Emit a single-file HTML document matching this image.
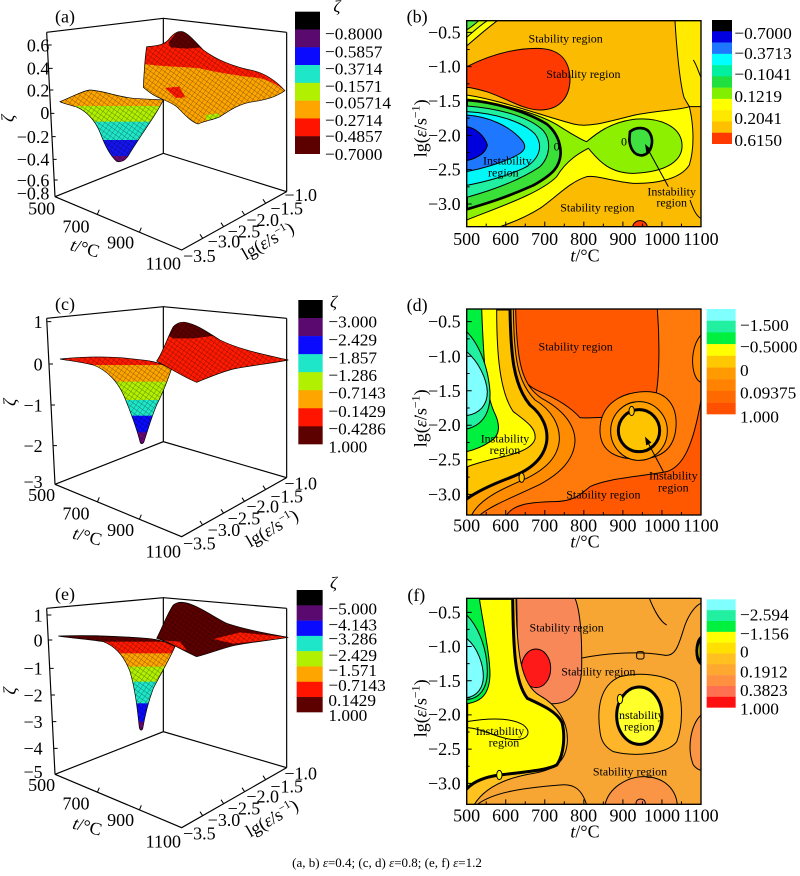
<!DOCTYPE html>
<html><head><meta charset="utf-8"><style>
html,body{margin:0;padding:0;background:#fff;width:800px;height:876px;overflow:hidden}
svg{display:block}
text{font-family:"Liberation Serif","Times New Roman",serif;fill:#000}
</style></head><body>
<svg width="800" height="876" viewBox="0 0 800 876" xmlns="http://www.w3.org/2000/svg" font-family="Liberation Serif, Times New Roman, serif">
<defs>
<pattern id="mesh" width="12" height="12" patternUnits="userSpaceOnUse" patternTransform="rotate(35)">
<path d="M0,0 L12,0 M0,0 L0,12" stroke="#000" stroke-width="2" fill="none" opacity="0.55"/>
</pattern>
<clipPath id="cLA"><path d="M180,305 C220,288 250,272 270,270 C310,272 350,290 400,295 C440,298 470,298 490,300 C475,330 455,360 440,382 C420,412 400,442 385,467 C375,482 362,488 350,484 C332,468 316,440 302,402 C286,362 262,336 232,322 C208,314 188,310 180,305 Z"/></clipPath>
<clipPath id="cRA"><path d="M430,262 C432,220 435,170 440,140 C470,138 490,135 505,120 C520,100 535,92 548,95 C565,100 585,125 610,150 C650,180 700,200 760,212 C800,222 830,245 855,272 C830,290 800,300 760,305 C720,310 690,330 660,350 C640,360 615,362 595,372 C575,368 550,340 530,320 C510,305 490,300 470,290 C450,280 440,270 430,262 Z"/></clipPath>
<clipPath id="cLC"><path d="M180,222 C250,215 320,212 400,222 C440,226 470,228 515,250 C505,280 490,320 470,360 C455,395 445,430 432,470 C428,478 422,478 420,470 C410,430 395,390 375,340 C355,290 320,255 280,240 C240,230 200,226 180,222 Z"/></clipPath>
<clipPath id="cRC"><path d="M470,228 C490,200 505,150 520,125 C530,115 540,110 555,112 C590,118 620,140 660,165 C720,195 800,210 865,225 C820,235 760,240 700,252 C660,262 620,280 590,292 C560,280 530,262 500,245 Z"/></clipPath>
<clipPath id="cLE"><path d="M175,183 C260,180 350,183 440,190 C480,193 510,205 525,215 C505,260 480,300 460,340 C445,380 435,420 428,462 C424,468 420,466 418,458 C412,400 405,340 390,290 C375,250 350,215 310,200 C260,192 200,188 175,183 Z"/></clipPath>
<clipPath id="cRE"><path d="M470,190 C490,150 505,110 520,90 C530,82 545,80 560,84 C600,95 640,125 680,145 C740,165 800,175 865,187 C820,195 760,200 700,212 C660,222 620,238 590,245 C560,232 530,215 500,200 Z"/></clipPath>
<clipPath id="cpb"><rect x="200" y="62" width="703" height="618"/></clipPath>
<clipPath id="cpd"><rect x="200" y="72" width="703" height="618"/></clipPath>
<clipPath id="cpf"><rect x="200" y="70" width="703" height="618"/></clipPath>
</defs>
<rect width="800" height="876" fill="#fff"/>

<!-- ================= (a) ================= -->
<g transform="scale(0.333333)" font-size="54">
<path d="M140,97 L490,55 L860,97 M490,55 L490,460 M860,97 L860,575 M140,97 L165,590 M165,590 L490,460 L860,575 M165,590 L545,750 L860,575" fill="none" stroke="#000" stroke-width="3.5"/>
<path d="M292,643 l6,-14 M418,697 l6,-14 M608,715 l-8,-12 M671,680 l-8,-12 M734,645 l-8,-12 M797,610 l-8,-12 M143,135 h12 M146,205 h12 M148,270 h12 M151,340 h12 M155,410 h12 M158,478 h12 M161,540 h12" stroke="#000" stroke-width="3"/>
<g clip-path="url(#cLA)">
<rect x="150" y="240" width="400" height="80" fill="#ffa500"/>
<rect x="150" y="318" width="400" height="48" fill="#b0f000"/>
<rect x="150" y="365" width="400" height="56" fill="#20e6c8"/>
<rect x="150" y="420" width="400" height="49" fill="#1414f0"/>
<rect x="150" y="468" width="400" height="40" fill="#6a0878"/>
</g>
<path d="M180,305 C220,288 250,272 270,270 C310,272 350,290 400,295 C440,298 470,298 490,300 C475,330 455,360 440,382 C420,412 400,442 385,467 C375,482 362,488 350,484 C332,468 316,440 302,402 C286,362 262,336 232,322 C208,314 188,310 180,305 Z" fill="url(#mesh)" stroke="#000" stroke-width="2"/>
<g clip-path="url(#cRA)">
<rect x="400" y="80" width="500" height="320" fill="#ffa500"/>
<path d="M420,100 L900,100 L900,270 L855,272 C820,245 790,235 760,232 C700,225 640,215 600,205 C540,200 480,200 420,190 Z" fill="#ff1a00"/>
<path d="M505,128 L530,97 L548,94 L575,110 L605,142 L560,146 L512,142 Z" fill="#5c0000"/>
<path d="M495,264 L538,260 L556,292 L528,294 Z" fill="#ff1a00"/>
<path d="M615,345 L660,340 L655,356 L620,360 Z" fill="#b0f000"/>
</g>
<path d="M430,262 C432,220 435,170 440,140 C470,138 490,135 505,120 C520,100 535,92 548,95 C565,100 585,125 610,150 C650,180 700,200 760,212 C800,222 830,245 855,272 C830,290 800,300 760,305 C720,310 690,330 660,350 C640,360 615,362 595,372 C575,368 550,340 530,320 C510,305 490,300 470,290 C450,280 440,270 430,262 Z" fill="url(#mesh)" stroke="#000" stroke-width="2"/>
<text x="165" y="68">(a)</text>
<g text-anchor="end">
<text x="148" y="154">0.6</text><text x="148" y="224">0.4</text><text x="148" y="289">0.2</text><text x="148" y="357">0</text>
<text x="148" y="429">−0.2</text><text x="148" y="497">−0.4</text><text x="148" y="559">−0.6</text><text x="148" y="599">−0.8</text>
</g>
<text transform="translate(42,355) rotate(-90)" text-anchor="middle" font-style="italic">ζ</text>
<g text-anchor="middle">
<text x="125" y="643">500</text><text x="228" y="698">700</text><text x="362" y="745">900</text><text x="490" y="808">1100</text>
<text x="902" y="603">−1.0</text><text x="860" y="643">−1.5</text><text x="788" y="678">−2.0</text><text x="732" y="713">−2.5</text><text x="672" y="743">−3.0</text><text x="598" y="786">−3.5</text>
</g>
<text x="255" y="762" text-anchor="middle" transform="rotate(15,255,745)"><tspan font-style="italic">t</tspan>/°C</text>
<text transform="translate(812,738) rotate(-30)" text-anchor="middle">lg(<tspan font-style="italic">ε̇</tspan>/s<tspan font-size="34" dy="-20">−1</tspan><tspan dy="20">)</tspan></text>
<rect x="885" y="35" width="75" height="54" fill="#000"/>
<rect x="885" y="88.4" width="75" height="54" fill="#5a0a6e"/>
<rect x="885" y="141.8" width="75" height="54" fill="#0a0aff"/>
<rect x="885" y="195.1" width="75" height="54" fill="#1ee6c8"/>
<rect x="885" y="248.5" width="75" height="54" fill="#b0f000"/>
<rect x="885" y="301.9" width="75" height="54" fill="#ffa500"/>
<rect x="885" y="355.3" width="75" height="54" fill="#ff1400"/>
<rect x="885" y="408.6" width="75" height="53.4" fill="#5c0000"/>
<g font-size="52">
<text x="1000" y="36" font-style="italic">ζ</text>
<text x="975" y="118">−0.8000</text><text x="975" y="173">−0.5857</text><text x="975" y="223">−0.3714</text><text x="975" y="276">−0.1571</text>
<text x="975" y="326">−0.05714</text><text x="975" y="378">−0.2714</text><text x="975" y="426">−0.4857</text><text x="975" y="480">−0.7000</text>
</g>
</g>

<!-- ================= (c) ================= -->
<g transform="translate(0,285) scale(0.333333)" font-size="54">
<path d="M140,100 L490,65 L860,100 M490,65 L490,470 M860,100 L860,578 M140,100 L165,598 M165,598 L490,470 L860,578 M165,598 L545,755 L860,578" fill="none" stroke="#000" stroke-width="3.5"/>
<path d="M292,651 l6,-14 M418,703 l6,-14 M608,720 l-8,-12 M671,685 l-8,-12 M734,650 l-8,-12 M797,614 l-8,-12 M142,110 h12 M147,237 h12 M153,360 h12 M159,482 h12" stroke="#000" stroke-width="3"/>
<g clip-path="url(#cLC)">
<rect x="150" y="200" width="400" height="42" fill="#ff1a00"/>
<rect x="150" y="240" width="400" height="52" fill="#ffa500"/>
<rect x="150" y="290" width="400" height="56" fill="#b0f000"/>
<rect x="150" y="345" width="400" height="48" fill="#1ee6c8"/>
<rect x="150" y="392" width="400" height="51" fill="#0a0aff"/>
<rect x="150" y="442" width="400" height="50" fill="#6a0878"/>
</g>
<path d="M180,222 C250,215 320,212 400,222 C440,226 470,228 515,250 C505,280 490,320 470,360 C455,395 445,430 432,470 C428,478 422,478 420,470 C410,430 395,390 375,340 C355,290 320,255 280,240 C240,230 200,226 180,222 Z" fill="url(#mesh)" stroke="#000" stroke-width="2"/>
<g clip-path="url(#cRC)">
<rect x="450" y="90" width="450" height="220" fill="#ff1a00"/>
<path d="M505,152 L525,118 L555,112 L600,125 L645,152 L580,160 L520,160 Z" fill="#5c0000"/>
</g>
<path d="M470,228 C490,200 505,150 520,125 C530,115 540,110 555,112 C590,118 620,140 660,165 C720,195 800,210 865,225 C820,235 760,240 700,252 C660,262 620,280 590,292 C560,280 530,262 500,245 Z" fill="url(#mesh)" stroke="#000" stroke-width="2"/>
<text x="165" y="75">(c)</text>
<g text-anchor="end">
<text x="128" y="129">1</text><text x="128" y="256">0</text><text x="128" y="379">−1</text><text x="128" y="501">−2</text><text x="128" y="609">−3</text>
</g>
<text transform="translate(48,352) rotate(-90)" text-anchor="middle" font-style="italic">ζ</text>
<g text-anchor="middle">
<text x="125" y="648">500</text><text x="228" y="703">700</text><text x="362" y="753">900</text><text x="490" y="818">1100</text>
<text x="902" y="613">−1.0</text><text x="860" y="653">−1.5</text><text x="788" y="683">−2.0</text><text x="732" y="718">−2.5</text><text x="672" y="753">−3.0</text><text x="598" y="793">−3.5</text>
</g>
<text x="262" y="772" text-anchor="middle" transform="rotate(15,262,755)"><tspan font-style="italic">t</tspan>/°C</text>
<text transform="translate(825,745) rotate(-30)" text-anchor="middle">lg(<tspan font-style="italic">ε̇</tspan>/s<tspan font-size="34" dy="-20">−1</tspan><tspan dy="20">)</tspan></text>
<rect x="895" y="45" width="73" height="55" fill="#000"/>
<rect x="895" y="99.1" width="73" height="55" fill="#5a0a6e"/>
<rect x="895" y="153.3" width="73" height="55" fill="#0a0aff"/>
<rect x="895" y="207.4" width="73" height="55" fill="#1ee6c8"/>
<rect x="895" y="261.5" width="73" height="55" fill="#b0f000"/>
<rect x="895" y="315.6" width="73" height="55" fill="#ffa500"/>
<rect x="895" y="369.8" width="73" height="55" fill="#ff1400"/>
<rect x="895" y="423.9" width="73" height="54.1" fill="#5c0000"/>
<g font-size="52">
<text x="990" y="68" font-style="italic">ζ</text>
<text x="985" y="128">−3.000</text><text x="985" y="181">−2.429</text><text x="985" y="236">−1.857</text><text x="985" y="288">−1.286</text>
<text x="985" y="340">−0.7143</text><text x="985" y="396">−0.1429</text><text x="985" y="448">−0.4286</text><text x="985" y="503">1.000</text>
</g>
</g>

<!-- ================= (e) ================= -->
<g transform="translate(0,575) scale(0.333333)" font-size="54">
<path d="M140,100 L490,68 L860,100 M490,68 L490,470 M860,100 L860,578 M140,100 L165,598 M165,598 L490,470 L860,578 M165,598 L545,758 L860,578" fill="none" stroke="#000" stroke-width="3.5"/>
<path d="M292,652 l6,-14 M418,705 l6,-14 M608,722 l-8,-12 M671,686 l-8,-12 M734,650 l-8,-12 M797,614 l-8,-12 M142,120 h12 M145,195 h12 M149,280 h12 M153,360 h12 M157,440 h12 M161,520 h12" stroke="#000" stroke-width="3"/>
<g clip-path="url(#cLE)">
<rect x="150" y="170" width="400" height="32" fill="#5c0000"/>
<rect x="150" y="200" width="400" height="37" fill="#ff1a00"/>
<rect x="150" y="235" width="400" height="42" fill="#ffa500"/>
<rect x="150" y="275" width="400" height="47" fill="#b0f000"/>
<rect x="150" y="320" width="400" height="67" fill="#1ee6c8"/>
<rect x="150" y="385" width="400" height="57" fill="#0a0aff"/>
<rect x="150" y="440" width="400" height="40" fill="#6a0878"/>
</g>
<path d="M175,183 C260,180 350,183 440,190 C480,193 510,205 525,215 C505,260 480,300 460,340 C445,380 435,420 428,462 C424,468 420,466 418,458 C412,400 405,340 390,290 C375,250 350,215 310,200 C260,192 200,188 175,183 Z" fill="url(#mesh)" stroke="#000" stroke-width="2"/>
<g clip-path="url(#cRE)">
<rect x="450" y="70" width="450" height="200" fill="#5c0000"/>
<path d="M640,192 L720,172 L865,187 L790,197 L700,206 Z" fill="#ff1a00"/>
<path d="M470,195 L540,200 L560,225 L500,215 Z" fill="#ff1a00"/>
</g>
<path d="M470,190 C490,150 505,110 520,90 C530,82 545,80 560,84 C600,95 640,125 680,145 C740,165 800,175 865,187 C820,195 760,200 700,212 C660,222 620,238 590,245 C560,232 530,215 500,200 Z" fill="url(#mesh)" stroke="#000" stroke-width="2"/>
<text x="165" y="75">(e)</text>
<g text-anchor="end">
<text x="128" y="139">1</text><text x="128" y="214">0</text><text x="128" y="299">−1</text><text x="128" y="379">−2</text>
<text x="128" y="459">−3</text><text x="128" y="539">−4</text><text x="128" y="609">−5</text>
</g>
<text transform="translate(48,348) rotate(-90)" text-anchor="middle" font-style="italic">ζ</text>
<g text-anchor="middle">
<text x="125" y="648">500</text><text x="228" y="703">700</text><text x="362" y="753">900</text><text x="490" y="818">1100</text>
<text x="902" y="613">−1.0</text><text x="860" y="653">−1.5</text><text x="788" y="683">−2.0</text><text x="732" y="718">−2.5</text><text x="672" y="753">−3.0</text><text x="598" y="793">−3.5</text>
</g>
<text x="262" y="772" text-anchor="middle" transform="rotate(15,262,755)"><tspan font-style="italic">t</tspan>/°C</text>
<text transform="translate(825,745) rotate(-30)" text-anchor="middle">lg(<tspan font-style="italic">ε̇</tspan>/s<tspan font-size="34" dy="-20">−1</tspan><tspan dy="20">)</tspan></text>
<rect x="890" y="45" width="78" height="46.5" fill="#000"/>
<rect x="890" y="90.9" width="78" height="46.5" fill="#5a0a6e"/>
<rect x="890" y="136.8" width="78" height="46.5" fill="#0a0aff"/>
<rect x="890" y="182.6" width="78" height="46.5" fill="#1ee6c8"/>
<rect x="890" y="228.5" width="78" height="46.5" fill="#b0f000"/>
<rect x="890" y="274.4" width="78" height="46.5" fill="#ffa500"/>
<rect x="890" y="320.3" width="78" height="46.5" fill="#ff1400"/>
<rect x="890" y="366.1" width="78" height="45.9" fill="#5c0000"/>
<g font-size="52">
<text x="990" y="40" font-style="italic">ζ</text>
<text x="985" y="118">−5.000</text><text x="985" y="166">−4.143</text><text x="985" y="208">−3.286</text><text x="985" y="258">−2.429</text>
<text x="985" y="303">−1.571</text><text x="985" y="348">−0.7143</text><text x="985" y="393">0.1429</text><text x="985" y="438">1.000</text>
</g>
</g>

<!-- ================= (b) ================= -->
<g transform="translate(400,0) scale(0.333333)" font-size="54">
<g clip-path="url(#cpb)" stroke="#000" stroke-width="3">
<rect x="200" y="62" width="703" height="618" fill="#fbbb00"/>
<path d="M825,62 C830,150 840,250 852,292 C862,312 868,318 868,320 L903,320 L903,62 Z" fill="#ffea00"/>
<path d="M880,180 C890,195 895,215 903,232" fill="none"/>
<path d="M200,62 L292,62 C265,82 232,110 200,138 Z" fill="#ffff00"/>
<path d="M200,62 L262,62 C240,76 220,95 200,112 Z" fill="#d8f800"/>
<path d="M200,62 L236,62 C226,72 212,82 200,90 Z" fill="#50e840"/>
<path d="M200,200 C260,170 330,145 410,145 C470,145 505,170 510,230 C512,290 480,330 420,330 C370,330 320,295 260,275 C235,268 215,262 200,262 Z" fill="#ff3a00"/>
<path d="M200,285 C300,300 420,345 520,372 C560,382 600,372 700,346 C780,330 840,330 868,320 C880,370 885,440 868,495 C840,540 760,552 700,550 C640,545 590,525 560,530 C510,545 470,590 420,625 C380,650 330,670 300,680 L200,680 Z" fill="#ffff00"/>
<path d="M200,298 C300,310 420,340 480,380 C520,405 545,420 560,425 C590,400 630,368 700,358 C780,350 842,380 846,432 C850,482 800,516 700,520 C620,520 588,470 565,445 C540,458 500,480 470,530 C420,580 300,620 200,660 Z" fill="#8cf000"/>
<path d="M200,300 C280,305 380,335 440,372 C470,396 482,430 482,460 C480,500 460,522 400,556 C320,592 260,610 200,628 Z" fill="#38e038" stroke-width="8"/>
<path d="M200,318 C300,325 390,352 430,392 C455,422 450,470 420,500 C360,540 280,570 200,592 Z" fill="#20f0a0"/>
<path d="M200,335 C290,340 370,366 405,402 C428,432 424,470 380,500 C330,525 260,545 200,556 Z" fill="#00f8f8"/>
<path d="M200,345 C270,350 330,380 365,420 C382,440 376,455 342,470 C300,490 250,505 200,515 Z" fill="#1e78ff"/>
<path d="M200,380 C230,385 255,410 262,435 C258,460 230,475 200,482 Z" fill="#0000dd"/>
<path d="M690,395 C708,380 740,380 750,400 C762,422 756,460 728,466 C700,468 690,442 688,420 Z" fill="#40e040" stroke-width="8"/>
<path d="M870,600 C880,630 890,650 903,655" fill="none"/>
<ellipse cx="720" cy="682" rx="22" ry="20" fill="#ff3a00"/>
</g>
<rect x="200" y="62" width="703" height="618" fill="none" stroke="#000" stroke-width="4"/>
<path d="M200,680 v-15 M317.2,680 v-15 M434.3,680 v-15 M551.5,680 v-15 M668.7,680 v-15 M785.8,680 v-15 M258.6,680 v-9 M375.8,680 v-9 M492.9,680 v-9 M610.1,680 v-9 M727.3,680 v-9 M844.4,680 v-9 M200,97 h15 M200,200 h15 M200,303 h15 M200,406 h15 M200,509 h15 M200,612 h15 M200,148.5 h9 M200,251.5 h9 M200,354.5 h9 M200,457.5 h9 M200,560.5 h9" stroke="#000" stroke-width="3"/>
<g font-size="36" text-anchor="middle">
<text x="497" y="127">Stability region</text>
<text x="550" y="234">Stability region</text>
<text x="322" y="494">Instability</text><text x="310" y="530">region</text>
<text x="815" y="587">Instability</text><text x="815" y="620">region</text>
<text x="592" y="634">Stability region</text>
<text x="470" y="452">0</text><text x="672" y="437">0</text>
</g>
<path d="M805,560 L745,450" stroke="#000" stroke-width="3"/>
<path d="M735,432 L755,450 L739,458 Z" fill="#000"/>
<text x="20" y="68">(b)</text>
<g text-anchor="end">
<text x="182" y="115">−0.5</text><text x="182" y="218">−1.0</text><text x="182" y="321">−1.5</text><text x="182" y="424">−2.0</text><text x="182" y="527">−2.5</text><text x="182" y="630">−3.0</text>
</g>
<g text-anchor="middle">
<text x="200" y="735">500</text><text x="317" y="735">600</text><text x="434" y="735">700</text><text x="551" y="735">800</text><text x="669" y="735">900</text><text x="786" y="735">1000</text><text x="903" y="735">1100</text>
<text x="555" y="785"><tspan font-style="italic">t</tspan>/°C</text>
</g>
<text transform="translate(80,385) rotate(-90)" text-anchor="middle">lg(<tspan font-style="italic">ε̇</tspan>/s<tspan font-size="36" dy="-22">−1</tspan><tspan dy="22">)</tspan></text>
<rect x="936" y="60" width="60" height="34.5" fill="#000000"/>
<rect x="936" y="93.8" width="60" height="34.5" fill="#0000e0"/>
<rect x="936" y="127.6" width="60" height="34.5" fill="#1e78ff"/>
<rect x="936" y="161.5" width="60" height="34.5" fill="#00ffff"/>
<rect x="936" y="195.3" width="60" height="34.5" fill="#00f0a0"/>
<rect x="936" y="229.1" width="60" height="34.5" fill="#20e040"/>
<rect x="936" y="262.9" width="60" height="34.5" fill="#80f000"/>
<rect x="936" y="296.7" width="60" height="34.5" fill="#ffff00"/>
<rect x="936" y="330.5" width="60" height="34.5" fill="#ffe800"/>
<rect x="936" y="364.4" width="60" height="34.5" fill="#ffc000"/>
<rect x="936" y="398.2" width="60" height="33.8" fill="#ff3a00"/>
<g font-size="52">
<text x="1003" y="117">−0.7000</text><text x="1003" y="177">−0.3713</text><text x="1003" y="240">−0.1041</text>
<text x="1003" y="306">0.1219</text><text x="1003" y="372">0.2041</text><text x="1003" y="438">0.6150</text>
</g>
</g>

<!-- ================= (d) ================= -->
<g transform="translate(400,285) scale(0.333333)" font-size="54">
<g clip-path="url(#cpd)" stroke="#000" stroke-width="3">
<rect x="200" y="72" width="703" height="618" fill="#ff7a0a"/>
<path d="M345,72 L772,72 C778,150 780,260 768,330 C755,375 720,390 650,395 C600,398 560,400 540,398 C515,370 480,345 420,320 C370,300 350,260 345,200 Z" fill="#ff5800"/>
<path d="M320,690 C340,660 380,652 460,650 C520,650 540,630 570,605 C620,580 720,575 800,560 C850,545 880,480 903,345 L903,690 Z" fill="#ff5800"/>
<path d="M903,150 C880,175 872,225 882,262 C888,282 897,290 903,292 Z" fill="#ff8a00"/>
<path d="M600,440 C598,360 660,322 735,320 C800,318 832,362 828,425 C824,485 790,520 720,522 C650,524 602,500 600,440 Z" fill="#ff8a00"/>
<ellipse cx="717" cy="438" rx="85" ry="88" fill="#ffa200"/>
<ellipse cx="717" cy="437" rx="62" ry="63" fill="#ffc400" stroke-width="9"/>
<path d="M200,72 L347,72 C350,230 365,300 425,340 C490,375 525,420 525,468 C522,525 480,565 420,598 C350,632 275,660 240,690 L200,690 Z" fill="#ff8c00"/>
<path d="M200,72 L340,72 C342,220 352,290 405,345 C455,375 480,420 478,465 C474,515 440,550 380,580 C310,610 240,640 215,690 L200,690 Z" fill="#ffa200"/>
<path d="M200,72 L330,72 C332,210 340,300 390,360 C428,390 445,430 440,470 C432,520 392,555 330,578 C272,600 230,620 200,642 Z" fill="#ffc400" stroke-width="9"/>
<path d="M200,72 L290,72 C290,200 298,320 340,380 C380,410 410,430 405,462 C396,492 350,507 280,522 C240,532 215,540 200,546 Z" fill="#ffff00"/>
<path d="M200,72 L245,72 C250,200 255,320 282,380 C302,420 300,452 270,470 C246,486 220,495 200,500 Z" fill="#00f040"/>
<path d="M200,140 C240,180 265,250 270,320 C272,380 250,420 200,432 Z" fill="#20f0a0"/>
<path d="M200,200 C235,230 260,280 262,320 C262,360 240,385 200,392 Z" fill="#80ffff"/>
<ellipse cx="365" cy="578" rx="8" ry="14" fill="#ffc400"/>
<ellipse cx="695" cy="378" rx="8" ry="14" fill="#ffc400"/>
</g>
<rect x="200" y="72" width="703" height="618" fill="none" stroke="#000" stroke-width="4"/>
<path d="M200,690 v-15 M317.2,690 v-15 M434.3,690 v-15 M551.5,690 v-15 M668.7,690 v-15 M785.8,690 v-15 M258.6,690 v-9 M375.8,690 v-9 M492.9,690 v-9 M610.1,690 v-9 M727.3,690 v-9 M844.4,690 v-9 M200,110 h15 M200,213.6 h15 M200,317.2 h15 M200,420.8 h15 M200,524.4 h15 M200,628 h15 M200,161.8 h9 M200,265.4 h9 M200,369 h9 M200,472.6 h9 M200,576.2 h9" stroke="#000" stroke-width="3"/>
<g font-size="36" text-anchor="middle">
<text x="527" y="197">Stability region</text>
<text x="315" y="472">Instability</text><text x="315" y="507">region</text>
<text x="820" y="584">Instability</text><text x="820" y="619">region</text>
<text x="610" y="640">Stability region</text>
</g>
<path d="M790,560 L745,475" stroke="#000" stroke-width="3"/>
<path d="M735,455 L754.4,472.9 L738.6,481.1 Z" fill="#000"/>
<text x="20" y="78">(d)</text>
<g text-anchor="end">
<text x="182" y="128">−0.5</text><text x="182" y="233">−1.0</text><text x="182" y="336">−1.5</text><text x="182" y="438">−2.0</text><text x="182" y="541">−2.5</text><text x="182" y="646">−3.0</text>
</g>
<g text-anchor="middle">
<text x="200" y="740">500</text><text x="317" y="740">600</text><text x="434" y="740">700</text><text x="551" y="740">800</text><text x="669" y="740">900</text><text x="786" y="740">1000</text><text x="903" y="740">1100</text>
<text x="555" y="788"><tspan font-style="italic">t</tspan>/°C</text>
</g>
<text transform="translate(80,400) rotate(-90)" text-anchor="middle">lg(<tspan font-style="italic">ε̇</tspan>/s<tspan font-size="36" dy="-22">−1</tspan><tspan dy="22">)</tspan></text>
<rect x="920" y="72" width="87" height="35.6" fill="#80ffff"/>
<rect x="920" y="107.1" width="87" height="35.6" fill="#20f0a0"/>
<rect x="920" y="142.2" width="87" height="35.6" fill="#00f040"/>
<rect x="920" y="177.3" width="87" height="35.6" fill="#ffff00"/>
<rect x="920" y="212.4" width="87" height="35.6" fill="#ffc800"/>
<rect x="920" y="247.6" width="87" height="35.6" fill="#ff9a00"/>
<rect x="920" y="282.7" width="87" height="35.6" fill="#ff8200"/>
<rect x="920" y="317.8" width="87" height="35.6" fill="#ff6a00"/>
<rect x="920" y="352.9" width="87" height="35.1" fill="#ff5000"/>
<g font-size="52">
<text x="1020" y="138">−1.500</text><text x="1020" y="203">−0.5000</text><text x="1020" y="273">0</text>
<text x="1020" y="340">0.09375</text><text x="1020" y="413">1.000</text>
</g>
</g>

<!-- ================= (f) ================= -->
<g transform="translate(400,575) scale(0.333333)" font-size="54">
<g clip-path="url(#cpf)" stroke="#000" stroke-width="3">
<rect x="200" y="70" width="703" height="618" fill="#f8a633"/>
<path d="M540,250 C600,238 700,226 790,240 C830,250 838,200 855,150 C870,110 890,90 903,85" fill="none"/>
<path d="M748,70 C760,100 780,140 800,150" fill="none"/>
<path d="M230,690 C280,650 380,638 480,630 C520,626 545,640 560,690" fill="none"/>
<path d="M350,70 L525,70 C542,110 546,200 545,280 C544,345 515,382 465,386 C418,389 378,372 362,332 C352,280 352,160 350,70 Z" fill="#f98858"/>
<ellipse cx="408" cy="280" rx="44" ry="58" fill="#ff1a1a"/>
<path d="M200,70 L348,70 C350,230 362,330 420,362 C470,390 505,440 502,500 C498,562 462,585 400,595 C320,608 255,635 222,690 L200,690 Z" fill="#ffc21e"/>
<path d="M200,70 L338,70 C340,220 344,322 382,370 C430,392 470,410 486,442 C496,482 492,540 470,570 C440,586 380,590 300,600 C250,606 220,620 200,642 Z" fill="#ffff00" stroke-width="9"/>
<path d="M200,440 C260,430 330,425 370,450 C395,470 385,492 350,494 C300,495 250,460 200,458" fill="none"/>
<path d="M200,70 L238,70 C250,150 270,240 270,300 C268,350 250,380 200,386 Z" fill="#00f040"/>
<path d="M200,120 C240,160 262,230 262,290 C262,340 240,370 200,374 Z" fill="#20f0a0"/>
<path d="M200,190 C235,220 250,270 250,305 C250,340 230,364 200,368 Z" fill="#80ffff"/>
<path d="M600,470 C590,400 600,330 660,305 C720,290 790,300 825,322 C850,362 850,450 830,500 C800,540 700,545 640,530 C612,515 603,495 600,470 Z" fill="#ffb52a"/>
<ellipse cx="718" cy="422" rx="68" ry="86" fill="#ffff2a" stroke-width="9"/>
<path d="M903,188 C888,200 885,250 903,266 Z" fill="#ffff00" stroke-width="9"/>
<path d="M903,420 C872,450 860,520 880,570 C888,580 896,585 903,586 Z" fill="#f99545"/>
<path d="M615,690 C625,640 680,605 730,605 C790,605 828,640 832,690 Z" fill="#f99545"/>
<ellipse cx="722" cy="684" rx="14" ry="12" fill="#f98858"/>
<rect x="710" y="230" width="22" height="22" rx="6" fill="none"/>
<ellipse cx="298" cy="600" rx="8" ry="14" fill="#ffff00"/>
<ellipse cx="660" cy="372" rx="8" ry="14" fill="#ffff00"/>
</g>
<rect x="200" y="70" width="703" height="618" fill="none" stroke="#000" stroke-width="4"/>
<path d="M200,688 v-15 M317.2,688 v-15 M434.3,688 v-15 M551.5,688 v-15 M668.7,688 v-15 M785.8,688 v-15 M258.6,688 v-9 M375.8,688 v-9 M492.9,688 v-9 M610.1,688 v-9 M727.3,688 v-9 M844.4,688 v-9 M200,112 h15 M200,214.6 h15 M200,317.2 h15 M200,419.8 h15 M200,522.4 h15 M200,625 h15 M200,163.3 h9 M200,265.9 h9 M200,368.5 h9 M200,471.1 h9 M200,573.7 h9" stroke="#000" stroke-width="3"/>
<g font-size="36" text-anchor="middle">
<text x="500" y="170">Stability region</text>
<text x="595" y="302">Stability region</text>
<text x="718" y="432">Instability</text><text x="718" y="467">region</text>
<text x="300" y="480">Instability</text><text x="312" y="514">region</text>
<text x="690" y="602">Stability region</text>
</g>
<text x="22" y="78">(f)</text>
<g text-anchor="end">
<text x="182" y="130">−0.5</text><text x="182" y="233">−1.0</text><text x="182" y="336">−1.5</text><text x="182" y="436">−2.0</text><text x="182" y="540">−2.5</text><text x="182" y="643">−3.0</text>
</g>
<g text-anchor="middle">
<text x="200" y="740">500</text><text x="317" y="740">600</text><text x="434" y="740">700</text><text x="551" y="740">800</text><text x="669" y="740">900</text><text x="786" y="740">1000</text><text x="903" y="740">1100</text>
<text x="555" y="788"><tspan font-style="italic">t</tspan>/°C</text>
</g>
<text transform="translate(80,400) rotate(-90)" text-anchor="middle">lg(<tspan font-style="italic">ε̇</tspan>/s<tspan font-size="36" dy="-22">−1</tspan><tspan dy="22">)</tspan></text>
<rect x="920" y="73" width="87" height="33" fill="#80ffff"/>
<rect x="920" y="105.5" width="87" height="33" fill="#20f0a0"/>
<rect x="920" y="138" width="87" height="33" fill="#00f040"/>
<rect x="920" y="170.5" width="87" height="33" fill="#ffff00"/>
<rect x="920" y="203" width="87" height="33" fill="#ffe000"/>
<rect x="920" y="235.5" width="87" height="33" fill="#ffc020"/>
<rect x="920" y="268" width="87" height="33" fill="#ffa830"/>
<rect x="920" y="300.5" width="87" height="33" fill="#ff9040"/>
<rect x="920" y="333" width="87" height="33" fill="#ff7050"/>
<rect x="920" y="365.5" width="87" height="32.5" fill="#ff1010"/>
<g font-size="52">
<text x="1020" y="136">−2.594</text><text x="1020" y="193">−1.156</text><text x="1020" y="248">0</text>
<text x="1020" y="308">0.1912</text><text x="1020" y="363">0.3823</text><text x="1020" y="418">1.000</text>
</g>
</g>

<text x="387" y="867" font-size="13" text-anchor="middle">(a, b) <tspan font-style="italic">ε</tspan>=0.4; (c, d) <tspan font-style="italic">ε</tspan>=0.8; (e, f) <tspan font-style="italic">ε</tspan>=1.2</text>
</svg>
</body></html>
